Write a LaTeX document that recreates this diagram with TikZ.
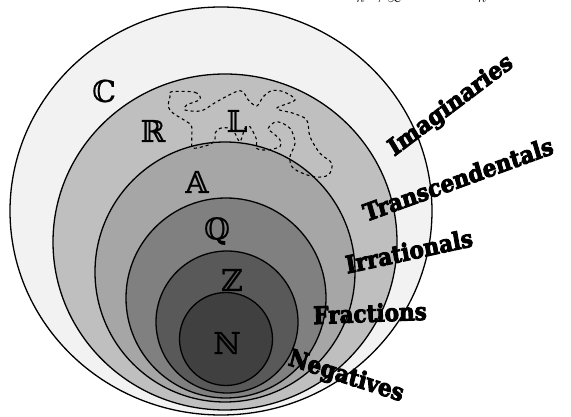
\documentclass[tikz,border=0pt]{standalone}
\usepackage{fontspec}
\newfontfamily\bbfont[FakeBold=0.5]{DejaVu Serif}
\newfontfamily\heavyfont[FakeBold=4]{DejaVu Serif Bold}
\definecolor{cC}{gray}{0.95}
\definecolor{cR}{gray}{0.75}
\definecolor{cA}{gray}{0.65}
\definecolor{cQ}{gray}{0.50}
\definecolor{cZ}{gray}{0.35}
\definecolor{cN}{gray}{0.25}
\tikzset{
  setline/.style={draw=black, line width=1.3pt},
  bblabel/.style={font=\bbfont\fontsize{30}{30}\selectfont, inner sep=0pt, text=black},
  namelabel/.style={font=\heavyfont\fontsize{21.5}{21.5}\selectfont, inner sep=0pt, yscale=1.12},
  cutlabel/.style={font=\fontsize{14}{14}\selectfont, inner sep=0pt, anchor=base},
}
\begin{document}
\begin{tikzpicture}[x=1pt,y=-1pt]
\useasboundingbox (0,0) rectangle (571,417);
% nested sets
\filldraw[setline, fill=cC] (221,211) ellipse [x radius=211pt, y radius=204pt];
\filldraw[setline, fill=cR] (225,242) ellipse [x radius=172pt, y radius=168pt];
\filldraw[setline, fill=cA] (225,272) circle [radius=130pt];
\filldraw[setline, fill=cQ] (226,298) circle [radius=100pt];
\filldraw[setline, fill=cZ] (227,322) circle [radius=71pt];
\filldraw[setline, fill=cN] (226,339) circle [radius=46.5pt];
% Liouville-like dashed blob
\draw[dashed, line width=1.1pt] plot[smooth cycle, tension=0.55] coordinates {
 (171.7,91.7) (195,92.3) (200,99.3) (186.7,105) (185,110) (201.7,110.7)
 (216.7,101.7) (240,90.7) (248.3,100) (256.7,106) (263.3,96.7) (271.7,90.7)
 (283.3,91.7) (295,100) (276.7,108.3) (293.3,113.3) (306.7,120) (310,136.7)
 (320,153.3) (331.7,163.3) (328.3,175) (313.3,176.7) (293.3,168.3) (290,156.7)
 (295,143.3) (290,128.3) (276.7,121.7) (268.3,128.3) (273.3,133.3) (280,140)
 (280,146.7) (266.7,150) (256.7,148.3) (256.7,140) (250,126.7) (245,128.3)
 (240,141.7) (235,133.3) (230,128.3) (220,128.3) (215,133.3) (215,140)
 (208.3,145) (193.3,148.3) (191.7,143.3) (191.7,126.7) (186.7,121.7)
 (173.3,113.3) (168.3,106.7) (170,96.7)};
% set letters
\node[bblabel] (lC) at (104,91) {ℂ};
\node[bblabel] (lR) at (153,131) {ℝ};
\node[bblabel] (lL) at (237,121) {𝕃};
\node[bblabel] (lA) at (197,182) {𝔸};
\node[bblabel] (lQ) at (217,231) {ℚ};
\node[bblabel] (lZ) at (232,280) {ℤ};
\node[bblabel] (lN) at (227,343) {ℕ};
% names
\node[namelabel, rotate=34] (tI) at (451,106) {Imaginaries};
\node[namelabel, rotate=18] (tT) at (458,179) {Transcendentals};
\node[namelabel, rotate=11] (tIr) at (409,251) {Irrationals};
\node[namelabel, rotate=2] (tF) at (370,313) {Fractions};
\node[namelabel, rotate=-16] (tN) at (346,377) {Negatives};
% cut-off formula at top edge
\node[cutlabel] (f1) at (379,3) {$n\to\infty$};
\node[cutlabel] (f2) at (482,3) {$n$};
\end{tikzpicture}
\end{document}
